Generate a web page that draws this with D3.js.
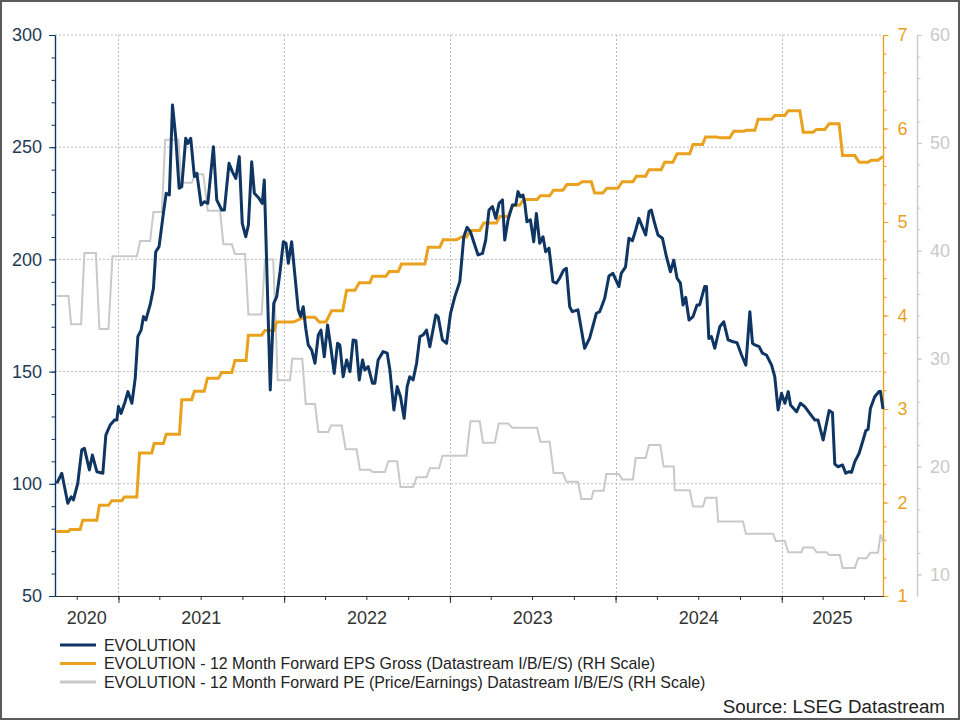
<!DOCTYPE html>
<html>
<head>
<meta charset="utf-8">
<script src="https://cdn.jsdelivr.net/npm/d3@7"></script>
<style>
  body { margin: 0; background: #fff; }
  svg { display: block; font-family: "Liberation Sans", Arial, sans-serif; }
</style>
</head>
<body>
<script>
// time is stored as decimal year

// EVOLUTION share price (left scale)
var priceData = [
  [2020.629,100.2],[2020.659,104.7],[2020.695,91.3],[2020.715,94.2],[2020.729,92.8],[2020.755,100.2],
  [2020.779,115.1],[2020.795,115.8],[2020.825,106.2],[2020.843,112.8],[2020.870,105.4],[2020.906,104.7],
  [2020.924,121.7],[2020.950,126.2],[2020.976,128.4],[2020.990,128.4],[2021.000,134.4],[2021.016,131.4],
  [2021.040,136.6],[2021.057,141.1],[2021.081,135.9],[2021.101,147.0],[2021.117,165.6],[2021.137,168.6],
  [2021.151,174.5],[2021.165,173.0],[2021.191,179.7],[2021.211,187.1],[2021.225,203.4],[2021.245,205.7],
  [2021.271,220.5],[2021.288,229.5],[2021.307,228.7],[2021.326,268.8],[2021.346,254.0],[2021.366,231.7],
  [2021.382,232.4],[2021.406,254.0],[2021.418,251.7],[2021.436,254.0],[2021.458,236.9],[2021.473,238.4],
  [2021.499,224.2],[2021.518,225.7],[2021.539,225.0],[2021.573,250.2],[2021.593,226.5],[2021.623,222.0],
  [2021.639,222.0],[2021.667,242.8],[2021.687,239.1],[2021.708,236.1],[2021.729,245.8],[2021.747,216.1],
  [2021.768,210.1],[2021.784,215.3],[2021.804,243.5],[2021.820,229.5],[2021.848,227.2],[2021.868,225.0],
  [2021.880,235.4],[2021.916,141.8],[2021.937,180.4],[2021.955,183.4],[2021.975,194.5],[2021.995,207.9],
  [2022.011,207.2],[2022.025,198.3],[2022.045,207.9],[2022.085,177.5],[2022.099,174.5],[2022.115,178.9],
  [2022.130,169.3],[2022.145,161.9],[2022.166,159.6],[2022.186,153.7],[2022.206,166.3],[2022.222,168.5],
  [2022.242,156.6],[2022.262,170.8],[2022.282,160.4],[2022.302,149.2],[2022.322,162.6],[2022.336,161.9],
  [2022.356,147.7],[2022.377,155.2],[2022.397,150.0],[2022.416,164.1],[2022.433,163.8],[2022.453,146.3],
  [2022.473,155.2],[2022.487,150.7],[2022.507,152.2],[2022.533,144.8],[2022.547,144.8],[2022.567,155.2],
  [2022.597,158.9],[2022.622,158.2],[2022.638,150.7],[2022.662,132.9],[2022.682,143.3],[2022.702,138.8],
  [2022.724,129.2],[2022.742,143.3],[2022.758,147.7],[2022.778,146.3],[2022.799,153.7],[2022.819,165.6],
  [2022.838,166.3],[2022.859,168.5],[2022.879,161.1],[2022.915,175.2],[2022.929,174.5],[2022.955,164.1],
  [2022.980,162.6],[2023.004,176.0],[2023.030,183.4],[2023.060,190.1],[2023.084,210.1],[2023.104,214.3],
  [2023.124,212.3],[2023.150,206.4],[2023.170,202.0],[2023.197,202.7],[2023.216,208.6],[2023.236,222.0],
  [2023.257,223.5],[2023.277,218.3],[2023.297,225.0],[2023.317,226.5],[2023.331,208.6],[2023.351,217.6],
  [2023.377,224.2],[2023.397,224.2],[2023.411,230.2],[2023.426,227.9],[2023.441,228.7],[2023.452,225.0],
  [2023.465,216.8],[2023.486,217.6],[2023.506,207.9],[2023.522,220.5],[2023.542,207.2],[2023.562,210.1],
  [2023.578,203.4],[2023.598,205.0],[2023.622,190.1],[2023.643,189.4],[2023.662,191.6],[2023.687,195.3],
  [2023.703,196.0],[2023.723,178.9],[2023.739,176.7],[2023.773,177.5],[2023.813,160.4],[2023.843,164.8],
  [2023.884,176.0],[2023.904,176.7],[2023.934,182.6],[2023.960,192.6],[2023.984,193.8],[2024.020,187.9],
  [2024.034,193.8],[2024.060,196.7],[2024.080,209.4],[2024.101,208.3],[2024.121,213.1],[2024.140,218.3],
  [2024.181,210.9],[2024.201,221.3],[2024.215,222.0],[2024.235,216.1],[2024.255,210.9],[2024.282,209.4],
  [2024.306,201.2],[2024.330,194.5],[2024.350,199.7],[2024.370,191.6],[2024.390,189.4],[2024.406,179.7],
  [2024.422,183.1],[2024.442,173.0],[2024.466,174.5],[2024.490,179.7],[2024.506,179.7],[2024.536,187.9],
  [2024.547,187.9],[2024.561,164.8],[2024.577,165.6],[2024.597,160.4],[2024.627,170.0],[2024.651,172.2],
  [2024.677,164.1],[2024.707,163.3],[2024.731,162.9],[2024.758,157.4],[2024.784,152.9],[2024.808,176.7],
  [2024.824,162.6],[2024.838,161.9],[2024.864,161.1],[2024.884,158.2],[2024.908,157.4],[2024.939,152.9],
  [2024.958,147.7],[2024.978,132.9],[2024.999,140.3],[2025.019,135.9],[2025.039,141.1],[2025.053,135.1],
  [2025.089,132.1],[2025.113,135.9],[2025.139,134.4],[2025.169,131.4],[2025.200,128.4],[2025.219,128.4],
  [2025.250,119.5],[2025.270,126.9],[2025.286,132.6],[2025.306,131.7],[2025.320,108.8],[2025.340,107.6],
  [2025.367,108.4],[2025.386,104.7],[2025.406,105.4],[2025.421,105.1],[2025.441,109.9],[2025.467,113.6],
  [2025.491,119.5],[2025.507,123.6],[2025.521,124.3],[2025.535,133.6],[2025.561,138.8],[2025.587,141.1],
  [2025.596,141.1],[2025.611,133.3]
];

// 12m forward EPS (first RH scale): [from, to, value]
var epsLevels = [
  [2020.625,2020.699,1.69],[2020.709,2020.769,1.71],[2020.785,2020.870,1.81],[2020.885,2020.940,1.97],
  [2020.960,2021.020,2.02],[2021.036,2021.111,2.06],[2021.127,2021.201,2.53],[2021.215,2021.271,2.63],
  [2021.288,2021.368,2.73],[2021.382,2021.442,3.10],[2021.458,2021.517,3.19],[2021.537,2021.603,3.33],
  [2021.623,2021.684,3.39],[2021.703,2021.770,3.52],[2021.784,2021.864,3.79],[2021.884,2021.939,3.84],
  [2021.955,2022.055,3.93],[2022.119,2022.186,3.98],[2022.212,2022.252,3.93],[2022.286,2022.353,4.05],
  [2022.377,2022.427,4.27],[2022.453,2022.517,4.35],[2022.533,2022.614,4.42],[2022.634,2022.688,4.47],
  [2022.708,2022.849,4.55],[2022.869,2022.939,4.73],[2022.959,2023.040,4.81],[2023.070,2023.100,4.84],
  [2023.124,2023.180,4.91],[2023.204,2023.281,4.99],[2023.301,2023.351,5.06],[2023.381,2023.421,5.18],
  [2023.445,2023.526,5.24],[2023.546,2023.602,5.28],[2023.626,2023.682,5.34],[2023.706,2023.773,5.40],
  [2023.799,2023.854,5.43],[2023.873,2023.923,5.31],[2023.948,2024.014,5.36],[2024.040,2024.104,5.43],
  [2024.125,2024.181,5.49],[2024.201,2024.275,5.56],[2024.295,2024.345,5.64],[2024.370,2024.446,5.73],
  [2024.466,2024.523,5.83],[2024.542,2024.607,5.91],[2024.630,2024.687,5.90],[2024.711,2024.772,5.97],
  [2024.790,2024.838,5.98],[2024.858,2024.939,6.10],[2024.958,2025.019,6.14],[2025.039,2025.109,6.19],
  [2025.130,2025.189,5.96],[2025.210,2025.260,5.99],[2025.286,2025.346,6.05],[2025.367,2025.441,5.71],
  [2025.467,2025.521,5.64],[2025.541,2025.581,5.66],[2025.611,2025.611,5.70]
];

// 12m forward PE (second RH scale): [from, to, value]
var peLevels = [
  [2020.625,2020.699,35.8],[2020.715,2020.775,33.2],[2020.795,2020.864,39.8],[2020.885,2020.940,32.75],
  [2020.964,2021.111,39.5],[2021.131,2021.191,40.9],[2021.211,2021.262,43.6],[2021.282,2021.362,50.3],
  [2021.378,2021.442,46.3],[2021.462,2021.512,47.1],[2021.539,2021.613,43.7],[2021.633,2021.684,40.6],
  [2021.703,2021.764,39.7],[2021.784,2021.864,34.1],[2021.884,2021.934,39.2],[2021.961,2022.035,28.0],
  [2022.049,2022.109,30.0],[2022.130,2022.186,25.8],[2022.206,2022.266,23.2],[2022.282,2022.347,23.8],
  [2022.371,2022.437,21.6],[2022.457,2022.517,19.7],[2022.533,2022.608,19.5],[2022.628,2022.682,20.5],
  [2022.702,2022.778,18.1],[2022.799,2022.859,19.0],[2022.879,2022.935,19.85],[2022.955,2023.100,21.0],
  [2023.124,2023.180,24.2],[2023.200,2023.271,22.2],[2023.295,2023.351,24.0],[2023.377,2023.526,23.6],
  [2023.546,2023.602,22.3],[2023.626,2023.682,19.4],[2023.703,2023.773,18.6],[2023.793,2023.854,17.0],
  [2023.867,2023.928,17.75],[2023.944,2024.020,19.3],[2024.040,2024.104,18.8],[2024.121,2024.181,20.8],
  [2024.201,2024.269,22.0],[2024.289,2024.350,20.0],[2024.356,2024.446,17.8],[2024.466,2024.526,16.3],
  [2024.542,2024.607,17.1],[2024.617,2024.767,14.9],[2024.784,2024.948,13.76],[2024.964,2025.019,13.1],
  [2025.039,2025.119,12.06],[2025.130,2025.189,12.5],[2025.210,2025.270,12.06],[2025.286,2025.350,11.8],
  [2025.367,2025.441,10.6],[2025.461,2025.511,11.5],[2025.535,2025.581,12.0],[2025.596,2025.596,13.7],
  [2025.611,2025.611,13.0]
];

var leftTicks = [50, 100, 150, 200, 250, 300];
var epsTicks = [1, 2, 3, 4, 5, 6, 7];
var peTicks = [10, 20, 30, 40, 50, 60];
var seriesNames = [
  "EVOLUTION",
  "EVOLUTION - 12 Month Forward EPS Gross (Datastream I/B/E/S) (RH Scale)",
  "EVOLUTION - 12 Month Forward PE (Price/Earnings) Datastream I/B/E/S (RH Scale)"
];
var sourceText = "Source: LSEG Datastream";

var navy = "#0f3563", orange = "#e9a11e", grey = "#c9c9c9";

function toDate(t) {  // decimal year -> Date
  var y = Math.floor(t);
  var a = new Date(y, 0, 1), b = new Date(y + 1, 0, 1);
  return new Date(+a + (t - y) * (b - a));
}

var L = 55, R = 883, T = 35, B = 596;

var svg = d3.select("body").append("svg")
    .attr("width", 960)
    .attr("height", 720);

svg.append("rect")  // outer frame
    .attr("x", 1).attr("y", 1)
    .attr("width", 958).attr("height", 718)
    .style("fill", "#fff")
    .style("stroke", "#5a5a5a")
    .style("stroke-width", 2);

var x = d3.scaleTime().domain([toDate(2020.618), toDate(2025.611)]).range([L, R]);
var yL = d3.scaleLinear().domain([50, 300]).range([B, T]);
var yE = d3.scaleLinear().domain([1, 7]).range([B, T]);
var yP = d3.scaleLinear().domain([8, 60]).range([B, T]);

// grid
var years = d3.timeYear.range(x.domain()[0], x.domain()[1]);
svg.append("g").selectAll("line").data(leftTicks.slice(1)).join("line")
    .attr("x1", L).attr("x2", R)
    .attr("y1", d => yL(d)).attr("y2", d => yL(d))
    .style("stroke", "#bdbdbd").style("stroke-width", 1).style("stroke-dasharray", "2,2");
svg.append("g").selectAll("line").data(years).join("line")
    .attr("x1", d => Math.round(x(d)) + 0.5).attr("x2", d => Math.round(x(d)) + 0.5)
    .attr("y1", T).attr("y2", B)
    .style("stroke", "#bdbdbd").style("stroke-width", 1).style("stroke-dasharray", "2,2");

// axes
function styleAxis(g, color, size) {
  g.selectAll(".domain").style("stroke", color).style("stroke-width", 1.2);
  g.selectAll(".tick line").style("stroke", color);
  g.selectAll("text").style("fill", color).style("font-size", size + "px")
      .style("font-family", '"Liberation Sans", Arial, sans-serif');
}

var gl1 = svg.append("g").attr("transform", "translate(" + L + ",0)")
    .call(d3.axisLeft(yL).tickValues(d3.range(50, 301, 10)).tickSize(3.5).tickSizeOuter(0).tickFormat(""));
styleAxis(gl1, navy, 18);
var gl2 = svg.append("g").attr("transform", "translate(" + L + ",0)")
    .call(d3.axisLeft(yL).tickValues(leftTicks).tickSize(6).tickSizeOuter(0).tickPadding(7));
styleAxis(gl2, navy, 18);
gl2.selectAll("text").style("fill", "#1d3a58");

var ge1 = svg.append("g").attr("transform", "translate(" + R + ",0)")
    .call(d3.axisRight(yE).tickValues(d3.range(1, 7.01, 0.2)).tickSize(3.5).tickSizeOuter(0).tickFormat(""));
styleAxis(ge1, orange, 18);
var ge2 = svg.append("g").attr("transform", "translate(" + R + ",0)")
    .call(d3.axisRight(yE).tickValues(epsTicks).tickSize(5.5).tickSizeOuter(0).tickPadding(9).tickFormat(d3.format("d")));
styleAxis(ge2, orange, 18);

var gp1 = svg.append("g").attr("transform", "translate(917,0)")
    .call(d3.axisRight(yP).tickValues(d3.range(10, 61, 2)).tickSize(3.5).tickSizeOuter(0).tickFormat(""));
styleAxis(gp1, grey, 18);
var gp2 = svg.append("g").attr("transform", "translate(917,0)")
    .call(d3.axisRight(yP).tickValues(peTicks).tickSize(5).tickSizeOuter(0).tickPadding(8));
styleAxis(gp2, grey, 18);

var gx1 = svg.append("g").attr("transform", "translate(0," + B + ")")
    .call(d3.axisBottom(x).tickValues(d3.timeMonth.every(3).range(x.domain()[0], x.domain()[1])).tickSize(4).tickSizeOuter(0).tickFormat(""));
styleAxis(gx1, "#333", 18);
var gx2 = svg.append("g").attr("transform", "translate(0," + B + ")")
    .call(d3.axisBottom(x).tickValues(years).tickSize(7).tickSizeOuter(0).tickFormat(""));
styleAxis(gx2, "#333", 18);

// year labels centred in the visible part of each year
var labelYears = d3.range(2020, 2026);
svg.append("g").selectAll("text").data(labelYears).join("text")
    .attr("x", d => {
      var a = Math.max(x(new Date(d, 0, 1)), L), b = Math.min(x(new Date(d + 1, 0, 1)), R);
      return (a + b) / 2;
    })
    .attr("y", 624)
    .attr("text-anchor", "middle")
    .style("font-size", "18px")
    .style("fill", "#333")
    .text(d => d);

// series
function levelPoints(levels) {
  var pts = [];
  levels.forEach(l => { pts.push([l[0], l[2]]); if (l[1] > l[0]) pts.push([l[1], l[2]]); });
  return pts;
}

svg.append("path")
    .datum(levelPoints(peLevels))
    .attr("d", d3.line().x(d => x(toDate(d[0]))).y(d => yP(d[1])))
    .style("fill", "none").style("stroke", grey).style("stroke-width", 2);

svg.append("path")
    .datum(levelPoints(epsLevels))
    .attr("d", d3.line().x(d => x(toDate(d[0]))).y(d => yE(d[1])))
    .style("fill", "none").style("stroke", orange).style("stroke-width", 3);

svg.append("path")
    .datum(priceData)
    .attr("d", d3.line().x(d => x(toDate(d[0]))).y(d => yL(d[1])))
    .style("fill", "none").style("stroke", navy).style("stroke-width", 3)
    .style("stroke-linejoin", "round");

// legend
var colors = [navy, orange, grey];
var lg = svg.append("g").selectAll("g").data(seriesNames).join("g")
    .attr("transform", (d, i) => "translate(0," + (645 + i * 18.5) + ")");
lg.append("line")
    .attr("x1", 60).attr("x2", 96)
    .style("stroke", (d, i) => colors[i]).style("stroke-width", 3);
lg.append("text")
    .attr("x", 104).attr("dy", "0.35em")
    .style("font-size", "15.9px").style("fill", "#222")
    .text(d => d);

svg.append("text")
    .attr("x", 945).attr("y", 713)
    .attr("text-anchor", "end")
    .style("font-size", "18.8px").style("fill", "#222")
    .text(sourceText);
</script>
</body>
</html>
